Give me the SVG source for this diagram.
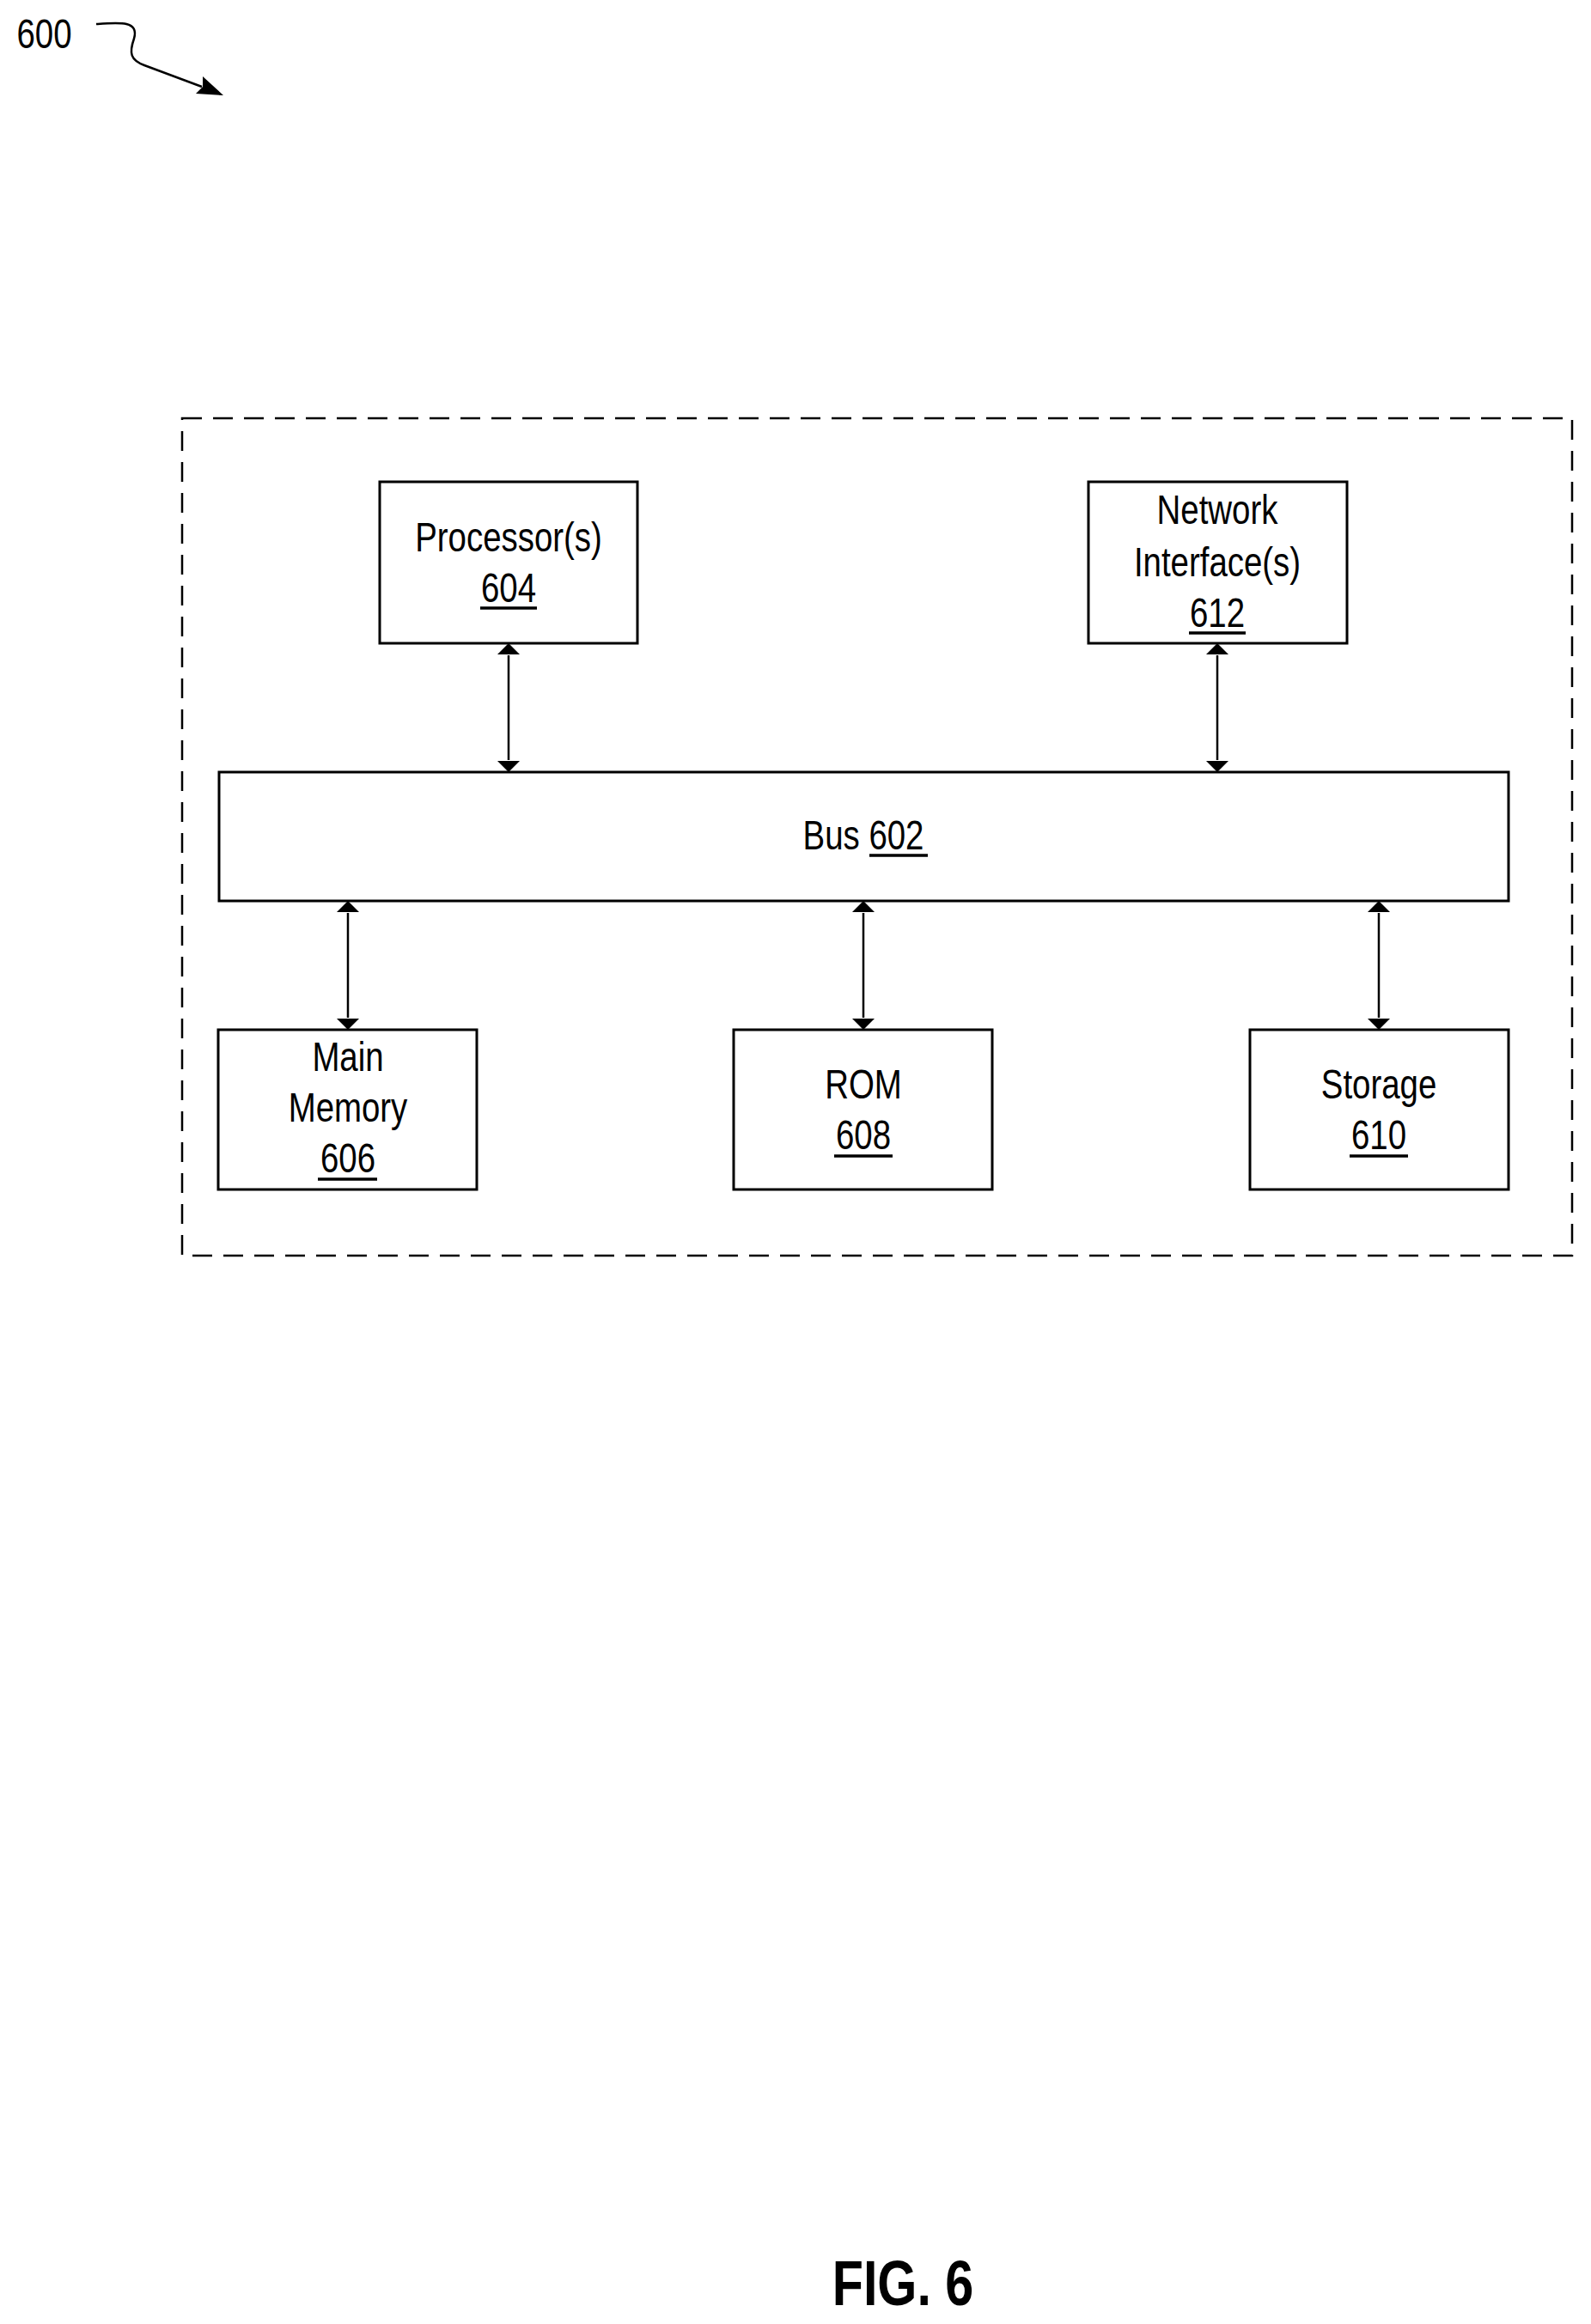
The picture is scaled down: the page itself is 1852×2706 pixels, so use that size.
<svg xmlns="http://www.w3.org/2000/svg" width="1852" height="2706" viewBox="0 0 1852 2706">
<style>
.box{fill:#fff;stroke:#000;stroke-width:3}
.t{font-family:"Liberation Sans",Arial,sans-serif;font-size:48px;fill:#000;text-anchor:middle}
.u{stroke:#000;stroke-width:3.5}
.c{stroke:#000;stroke-width:2.5;fill:none}
</style>
<defs>
<marker id="ah" markerUnits="userSpaceOnUse" markerWidth="26" markerHeight="14" refX="13" refY="0" viewBox="0 0 26 14" orient="auto-start-reverse" overflow="visible">
<path d="M0,13 L13,0 L26,13 Z" fill="#000" transform="rotate(90 13 0) translate(0,-13)"/>
</marker>
<marker id="ah2" markerUnits="userSpaceOnUse" markerWidth="30" markerHeight="24" refX="30" refY="12" viewBox="0 0 30 24" orient="auto">
<path d="M0,0 L30,12 L0,24 L7,12 Z" fill="#000"/>
</marker>
<marker id="dh" markerUnits="userSpaceOnUse" markerWidth="26" markerHeight="13" refX="13" refY="13" viewBox="0 0 26 13" orient="auto-start-reverse">
<path d="M0,0 L13,13 L26,0 Z" fill="#000" transform="rotate(-90 13 6.5)"/>
</marker>
</defs>
<rect width="1852" height="2706" fill="#fff"/>
<g id="label600">
<text class="t" style="text-anchor:start" transform="translate(19.5,56) scale(0.8,1)">600</text>
<path class="c" d="M112,28 C140,26 162,24 156,45 C150,62 152,70 168,76 L235,101" />
<path d="M260,111 L228,109 L236,101 L236,89 Z" fill="#000"/>
</g>
<g id="container">
<rect x="212" y="487" width="1618" height="975" fill="none" stroke="#000" stroke-width="2.5" stroke-dasharray="23,13"/>
</g>
<g id="connectors">
<line class="c" x1="592" y1="763" x2="592" y2="885"/>
<line class="c" x1="1417" y1="763" x2="1417" y2="885"/>
<line class="c" x1="405" y1="1063" x2="405" y2="1185"/>
<line class="c" x1="1005" y1="1063" x2="1005" y2="1185"/>
<line class="c" x1="1605" y1="1063" x2="1605" y2="1185"/>
<g fill="#000">
<path d="M579,762 L592,749 L605,762 Z"/><path d="M579,886 L592,899 L605,886 Z"/>
<path d="M1404,762 L1417,749 L1430,762 Z"/><path d="M1404,886 L1417,899 L1430,886 Z"/>
<path d="M392,1062 L405,1049 L418,1062 Z"/><path d="M392,1186 L405,1199 L418,1186 Z"/>
<path d="M992,1062 L1005,1049 L1018,1062 Z"/><path d="M992,1186 L1005,1199 L1018,1186 Z"/>
<path d="M1592,1062 L1605,1049 L1618,1062 Z"/><path d="M1592,1186 L1605,1199 L1618,1186 Z"/>
</g>
</g>
<g id="processor">
<rect class="box" x="442" y="561" width="300" height="188"/>
<text class="t" transform="translate(592,642) scale(0.8,1)">Processor(s)</text>
<text class="t" transform="translate(592,701) scale(0.8,1)">604</text>
<line class="u" x1="559" y1="708" x2="625" y2="708"/>
</g>
<g id="network">
<rect class="box" x="1267" y="561" width="301" height="188"/>
<text class="t" transform="translate(1417,610) scale(0.8,1)">Network</text>
<text class="t" transform="translate(1417,671) scale(0.8,1)">Interface(s)</text>
<text class="t" transform="translate(1417,730) scale(0.8,1)">612</text>
<line class="u" x1="1384" y1="737" x2="1450" y2="737"/>
</g>
<g id="bus">
<rect class="box" x="255" y="899" width="1501" height="150"/>
<text class="t" transform="translate(1005,989) scale(0.8,1)">Bus 602</text>
<line class="u" x1="1012" y1="996" x2="1080" y2="996"/>
</g>
<g id="mainmemory">
<rect class="box" x="254" y="1199" width="301" height="186"/>
<text class="t" transform="translate(405,1247) scale(0.8,1)">Main</text>
<text class="t" transform="translate(405,1306) scale(0.8,1)">Memory</text>
<text class="t" transform="translate(405,1365) scale(0.8,1)">606</text>
<line class="u" x1="370" y1="1373" x2="439" y2="1373"/>
</g>
<g id="rom">
<rect class="box" x="854" y="1199" width="301" height="186"/>
<text class="t" transform="translate(1005,1279) scale(0.8,1)">ROM</text>
<text class="t" transform="translate(1005,1338) scale(0.8,1)">608</text>
<line class="u" x1="971" y1="1346" x2="1039" y2="1346"/>
</g>
<g id="storage">
<rect class="box" x="1455" y="1199" width="301" height="186"/>
<text class="t" transform="translate(1605,1279) scale(0.8,1)">Storage</text>
<text class="t" transform="translate(1605,1338) scale(0.8,1)">610</text>
<line class="u" x1="1571" y1="1346" x2="1639" y2="1346"/>
</g>
<g id="caption">
<text class="t" style="font-size:75px;font-weight:bold" transform="translate(1051,2684) scale(0.79,1)">FIG. 6</text>
</g>
</svg>
